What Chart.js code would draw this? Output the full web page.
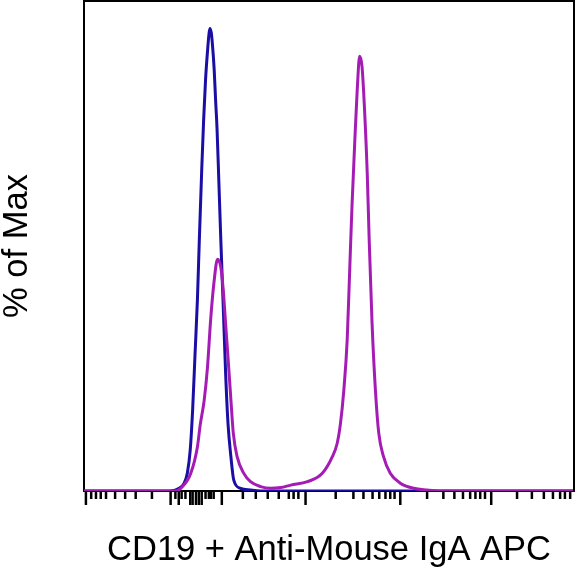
<!DOCTYPE html>
<html>
<head>
<meta charset="utf-8">
<script src="https://cdn.jsdelivr.net/npm/chart.js@4/dist/chart.umd.min.js"></script>
<style>
    body { margin: 0; background: #fff; }
    canvas { display: block; }
</style>
</head>
<body>
<canvas id="histo" width="576" height="571"></canvas>
<script>
// channel positions (0..1024) and % of max
const stainedX = [0, 190, 202, 223, 237, 243, 251, 258, 265, 272, 279, 286, 291, 296, 301, 307, 312, 320, 334, 348, 369, 390, 411, 432, 467, 498, 519, 529, 536, 543, 550, 555, 560, 566, 571, 576, 581, 586, 592, 596, 602, 609, 616, 626, 640, 661, 689, 717, 745, 1024];
const stainedY = [0, 0, 0.55, 3.6, 9.0, 13.6, 18.4, 25.2, 35.4, 42.9, 47.3, 45.6, 41.0, 34.0, 27.2, 18.6, 11.8, 7.0, 3.6, 1.9, 0.9, 0.55, 0.7, 1.2, 1.9, 3.6, 7.0, 9.7, 13.8, 20.6, 30.8, 44.4, 58.0, 71.6, 81.9, 88.7, 86.6, 78.4, 64.6, 51.2, 34.2, 20.6, 11.8, 7.0, 3.6, 1.6, 0.55, 0.2, 0, 0];

const controlX = [0, 181, 199, 209, 216, 222, 227, 232, 237, 241, 246, 250, 254, 258, 261, 263, 266, 268, 272, 275, 278, 282, 286, 291, 296, 301, 307, 313, 327, 348, 369, 1024];
const controlY = [0, 0, 0.55, 1.57, 3.67, 8.4, 16.5, 27.8, 39.0, 51.2, 65.5, 75.7, 83.9, 89.6, 93.1, 94.4, 93.5, 91.6, 86.1, 79.8, 74.0, 62.6, 51.0, 37.6, 23.9, 13.7, 7.0, 2.2, 0.55, 0.2, 0, 0];

// axis tick marks (biexponential display, in channels)
const majorTicks = [4, 181, 198, 222, 227, 234, 240, 246, 288, 463, 661, 851];
const minorTicks = [15, 25, 35, 46, 65, 86, 108, 142, 191, 204, 212, 254, 261, 265, 271,
    332, 359, 384, 407, 428, 438, 448, 526, 563, 584, 603, 617, 630, 640, 649,
    717, 751, 774, 792, 807, 818, 828, 838, 905, 936, 961, 980, 995, 1005, 1016];

const xTitle = 'CD19 + Anti-Mouse IgA APC';
const yTitle = '% of Max';

function toPoints(xs, ys) {
    return xs.map((x, i) => ({ x: x, y: ys[i] }));
}

const frameAndTicks = {
    id: 'frameAndTicks',
    afterDraw(chart) {
        const ctx = chart.ctx;
        const area = chart.chartArea;
        const xs = chart.scales.x;
        ctx.save();
        ctx.strokeStyle = '#000';
        ctx.lineWidth = 2;
        ctx.beginPath();
        ctx.moveTo(area.left, area.top);
        ctx.lineTo(area.right, area.top);
        ctx.lineTo(area.right, area.bottom);
        ctx.stroke();

        ctx.lineWidth = 2.5;
        const drawTick = (v, len) => {
            const px = xs.getPixelForValue(v);
            ctx.beginPath();
            ctx.moveTo(px, area.bottom + 1);
            ctx.lineTo(px, area.bottom + 1 + len);
            ctx.stroke();
        };
        minorTicks.forEach(v => drawTick(v, 7));
        majorTicks.forEach(v => drawTick(v, 13));
        ctx.restore();
    }
};

const labelFont = { family: '"Liberation Sans", Arial, sans-serif', size: 34.5, lineHeight: 1 };

new Chart(document.getElementById('histo'), {
    type: 'line',
    data: {
        datasets: [
            {
                label: 'CD19 + Anti-Mouse IgA',
                data: toPoints(stainedX, stainedY),
                borderColor: '#a41cb4',
                borderWidth: 3,
                pointRadius: 0,
                fill: false,
                cubicInterpolationMode: 'monotone'
            },
            {
                label: 'Control',
                data: toPoints(controlX, controlY),
                borderColor: '#1a0ea4',
                borderWidth: 3,
                pointRadius: 0,
                fill: false,
                cubicInterpolationMode: 'monotone'
            }
        ]
    },
    options: {
        responsive: false,
        animation: false,
        devicePixelRatio: 1,
        layout: { padding: { top: 1, right: 2, left: 0, bottom: 0 } },
        plugins: { legend: { display: false }, tooltip: { enabled: false } },
        scales: {
            x: {
                type: 'linear',
                min: 0,
                max: 1024,
                grid: { display: false },
                ticks: { display: false },
                border: { display: true, color: '#000', width: 2 },
                title: { display: true, text: xTitle, color: '#000', font: labelFont, padding: { top: 0, bottom: 3 } },
                afterFit(scale) { scale.height = 80; }
            },
            y: {
                min: 0,
                max: 100,
                grid: { display: false },
                ticks: { display: false },
                border: { display: true, color: '#000', width: 2 },
                title: { display: true, text: yTitle, color: '#000', font: labelFont, padding: { top: 0, bottom: 0 } },
                afterFit(scale) { scale.width = 84; }
            }
        }
    },
    plugins: [frameAndTicks]
});
</script>
</body>
</html>
